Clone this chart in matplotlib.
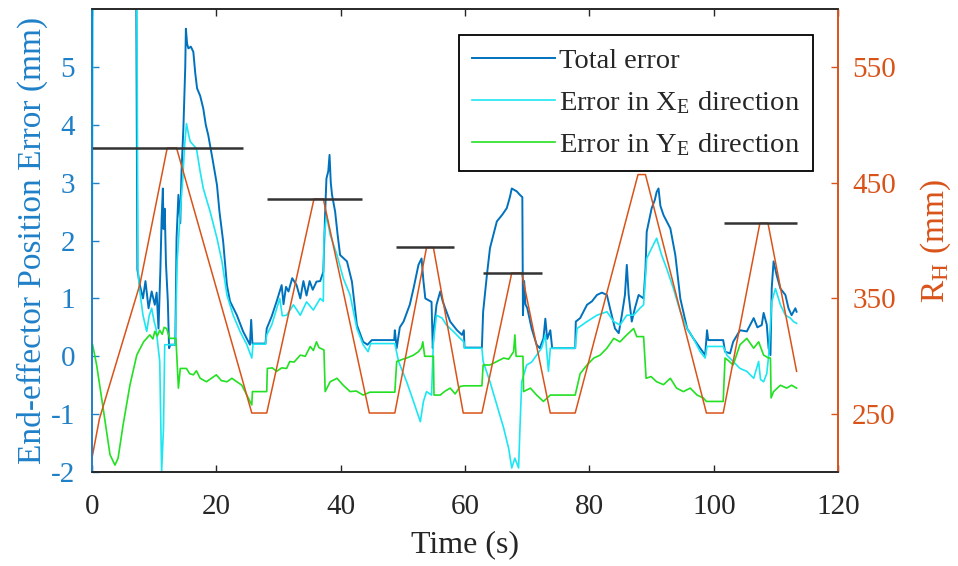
import matplotlib
matplotlib.use("Agg")
import matplotlib.pyplot as plt

plt.rcParams["font.family"] = ["Liberation Serif", "DejaVu Serif"]
plt.rcParams["mathtext.fontset"] = "stix"
plt.rcParams["axes.unicode_minus"] = False

# total end-effector error (mm), large values at the start run off the top
total_t = [0, 6.9, 7.3, 7.7, 8.2, 8.6, 9.1, 9.6, 10.1, 10.4, 10.7, 11.0, 11.2, 11.4, 11.5, 11.7,
           11.9, 12.2, 12.4, 12.6, 13.4, 13.6, 13.9, 14.2, 14.4, 14.7, 15.0, 15.1, 15.3, 15.5,
           15.9, 16.3, 16.6, 16.9, 17.4, 17.9, 18.3, 18.7, 19.4, 20.1, 20.5, 21.1, 21.7, 22.2,
           23.3, 24.3, 25.4, 25.6, 25.8, 27.9, 28.1, 28.9, 29.7, 30.5, 30.8, 31.2, 31.6, 32.2,
           32.9, 33.5, 34.0, 34.5, 35.0, 35.5, 36.1, 36.7, 37.2, 37.5, 37.7, 38.0, 38.2, 38.4,
           38.6, 39.1, 39.5, 39.9, 41.0, 41.8, 42.6, 43.6, 44.3, 45.0, 48.6, 48.7, 49.0, 49.5,
           50.1, 51.1, 51.7, 52.5, 53.0, 53.3, 53.6, 54.6, 54.8, 55.0, 55.4, 56.0, 56.4, 56.8,
           57.6, 58.7, 59.5, 59.8, 59.9, 62.7, 62.9, 63.5, 64.0, 65.1, 66.0, 66.7, 67.2, 67.5,
           68.3, 68.8, 69.2, 69.3, 69.5, 69.7, 70.0, 70.7, 71.5, 72.0, 72.6, 72.9, 73.2, 73.7,
           74.0, 77.7, 77.8, 78.5, 79.6, 80.4, 81.2, 82.0, 82.8, 83.3, 84.1, 84.7, 85.2, 85.7,
           86.0, 86.3, 86.8, 87.3, 87.9, 88.7, 89.0, 89.2, 90.0, 90.5, 90.8, 91.1, 91.4, 91.9,
           93.0, 93.8, 94.6, 95.7, 96.7, 97.8, 98.6, 98.9, 99.1, 101.5, 101.8, 102.6, 103.1,
           104.2, 105.3, 106.4, 107.0, 107.7, 108.0, 108.5, 108.8, 109.1, 109.3, 109.6, 110.1,
           110.7, 111.5, 112.0, 112.5, 113.1, 113.3]
total_e = [12, 12, 1.5, 1.23, 1.0, 1.3, 0.83, 1.12, 0.89, 1.1, 0.48, 1.5, 2.38, 2.9, 2.2, 2.55,
           1.6, 0.95, 0.14, 0.2, 0.2, 2.04, 2.79, 2.3, 3.2, 3.94, 5.0, 5.66, 5.4, 5.32,
           5.35, 5.26, 4.9, 4.63, 4.5, 4.28, 4.0, 3.82, 3.4, 2.96, 2.5, 1.98, 1.23, 0.95,
           0.71, 0.43, 0.2, 0.63, 0.22, 0.22, 0.48, 0.69, 0.95, 1.23, 0.9, 1.2, 1.12, 1.35,
           1.23, 1.0, 1.3, 1.05, 1.3, 1.15, 1.29, 1.3, 1.46, 2.5, 3.07, 3.2, 3.48, 3.0,
           2.79, 2.5, 2.1, 1.75, 1.64, 1.29, 0.54, 0.25, 0.2, 0.28, 0.28, 0.45, 0.14, 0.5,
           0.6, 0.89, 1.17, 1.58, 1.69, 1.3, 1.0, 0.94, 0.14, 0.5, 0.89, 1.12, 0.95, 0.83,
           0.6, 0.45, 0.37, 0.45, 0.15, 0.15, 0.77, 1.4, 1.87, 2.33, 2.45, 2.56, 2.75, 2.9,
           2.85, 2.79, 2.75, 0.71, 1.3, 0.9, 0.83, 0.48, 0.2, 0.14, 0.31, 0.65, 0.3, 0.45,
           0.14, 0.14, 0.6, 0.66, 0.89, 0.95, 1.06, 1.1, 1.06, 0.83, 0.48, 0.4, 0.71, 1.06,
           1.58, 1.06, 0.6, 0.83, 1.06, 1.0, 1.5, 2.15, 2.56, 2.7, 2.84, 2.9, 2.6, 2.44,
           2.21, 1.75, 1.0, 0.48, 0.31, 0.14, 0.02, 0.45, 0.28, 0.28, 0.08, 0.05, 0.25,
           0.45, 0.43, 0.66, 0.5, 0.54, 0.75, 0.55, 0.14, 0.02, 1.17, 1.64, 1.4,
           1.17, 1.06, 0.83, 0.71, 0.83, 0.77]

# error along X_E (mm)
xerr_t = [0, 0.3, 7.0, 7.4, 7.6, 8.2, 8.8, 9.2, 9.6, 10.0, 10.3, 10.9, 11.2, 11.5, 11.7, 13.4,
          13.7, 14.2, 14.6, 14.9, 15.2, 15.5, 15.8, 16.8, 17.4, 17.9, 19.0, 20.1, 20.9, 21.7,
          22.7, 23.8, 24.9, 25.7, 25.9, 27.9, 28.1, 28.9, 30.2, 30.6, 31.3, 32.4, 33.5, 34.5,
          35.6, 36.7, 37.2, 37.3, 37.7, 38.3, 39.4, 40.4, 41.5, 42.6, 43.6, 44.4, 44.8, 48.7,
          49.3, 50.6, 51.7, 52.8, 53.3, 53.8, 54.6, 54.9, 55.4, 56.3, 57.0, 58.1, 59.2, 59.8,
          59.9, 62.7, 62.9, 64.0, 65.1, 66.2, 67.0, 67.5, 68.0, 68.6, 68.8, 69.1, 69.9, 70.7,
          71.5, 72.3, 72.9, 73.4, 73.7, 77.7, 78.0, 79.6, 81.2, 82.8, 83.9, 84.9, 86.0, 87.1,
          88.1, 88.7, 89.2, 90.0, 90.8, 91.6, 92.4, 93.5, 94.6, 95.7, 96.7, 97.8, 98.6, 98.9,
          101.5, 102.1, 103.1, 104.2, 105.3, 106.4, 107.2, 107.5, 108.0, 108.5, 108.8, 109.3,
          109.9, 110.7, 111.5, 112.3, 112.8, 113.3]
xerr_e = [0.3, 12, 12, 1.5, 1.2, 0.71, 0.43, 0.7, 0.83, 0.6, 0.48, -0.09, -1.99, -1.24, 0.2, 0.2,
          1.64, 2.5, 3.07, 3.65, 4.02, 3.85, 3.71, 3.59, 3.19, 2.9, 2.5, 2.04, 1.64, 1.06,
          0.71, 0.43, 0.2, -0.03, 0.21, 0.21, 0.37, 0.54, 1.0, 0.7, 0.71, 0.89, 0.71, 0.94,
          0.8, 1.0, 0.95, 2.04, 2.44, 2.1, 1.75, 1.35, 1.06, 0.48, 0.2, 0.08, 0.22, 0.22,
          -0.09, -0.44, -0.78, -1.13, -0.78, -0.61, -0.67, 0.25, 0.71, 0.66, 0.54, 0.43, 0.31, 0.25,
          0.14, 0.14, -0.09, -0.44, -0.84, -1.24, -1.59, -1.93, -1.76, -1.93, -1.3, -0.44, -0.15, -0.1,
          0.02, 0.14, 0.37, -0.26, 0.14, 0.14, 0.48, 0.6, 0.71, 0.77, 0.6, 0.54, 0.71, 0.71,
          0.83, 0.89, 1.69, 1.87, 2.04, 1.75, 1.52, 1.17, 0.77, 0.48, 0.31, 0.08, -0.03, 0.17,
          0.17, 0.02, -0.09, -0.21, -0.26, -0.38, -0.09, -0.4, -0.44, -0.3, 0.0, 0.94,
          1.17, 0.89, 0.71, 0.66, 0.6, 0.57]

# error along Y_E (mm)
yerr_t = [0.1, 0.75, 1.8, 2.9, 3.7, 4.2, 5.0, 6.1, 7.2, 8.3, 9.3, 9.8, 10.1, 10.5, 10.9, 11.3,
          11.6, 12.0, 12.3, 12.5, 13.5, 13.9, 14.2, 15.2, 15.7, 16.3, 16.8, 17.4, 18.4, 19.2,
          20.0, 20.8, 21.7, 22.5, 23.3, 24.1, 24.9, 25.7, 25.8, 28.1, 28.2, 29.0, 29.7, 30.5,
          31.3, 31.8, 32.5, 33.5, 34.3, 35.1, 35.6, 36.1, 36.5, 37.3, 37.5, 38.3, 39.4, 40.4,
          41.5, 42.5, 43.6, 44.7, 48.7, 49.0, 50.0, 50.6, 51.7, 52.5, 53.0, 53.2, 53.5, 54.9,
          55.0, 56.0, 56.8, 57.6, 58.4, 59.2, 59.8, 62.7, 62.9, 64.0, 65.1, 66.2, 67.0, 67.8,
          68.0, 68.2, 69.3, 69.4, 70.5, 71.5, 72.6, 73.2, 73.7, 77.7, 78.5, 79.6, 80.7, 81.7,
          82.8, 83.9, 84.9, 86.0, 87.1, 87.6, 88.7, 89.1, 89.9, 90.8, 91.9, 93.0, 94.0, 95.1,
          96.2, 97.3, 98.3, 98.8, 101.5, 101.8, 102.4, 103.1, 104.2, 105.3, 106.4, 107.2, 108.0,
          108.8, 109.1, 109.2, 109.6, 110.7, 111.7, 112.5, 113.3]
yerr_e = [0.2, -0.15, -0.9, -1.7, -1.88, -1.76, -1.19, -0.5, 0.02, 0.25, 0.37, 0.3, 0.43, 0.35, 0.45, 0.38,
          0.5, 0.48, 0.38, 0.31, 0.31, -0.55, -0.21, -0.21, -0.3, -0.32, -0.25, -0.38, -0.44, -0.38,
          -0.32, -0.42, -0.44, -0.38, -0.44, -0.5, -0.67, -0.84, -0.61, -0.61, -0.21, -0.2, -0.26, -0.2,
          -0.21, -0.09, -0.1, 0.02, 0.0, 0.17, 0.1, 0.25, 0.15, 0.11, -0.61, -0.44, -0.38, -0.5,
          -0.61, -0.6, -0.67, -0.62, -0.62, -0.09, -0.05, -0.03, 0.02, 0.08, 0.15, 0.25, 0.0, 0.0,
          -0.67, -0.67, -0.6, -0.55, -0.65, -0.52, -0.51, -0.51, -0.15, -0.15, -0.09, -0.03, -0.05, 0.08,
          0.37, 0.0, 0.0, -0.61, -0.55, -0.67, -0.78, -0.72, -0.67, -0.67, -0.3, -0.15, -0.03, 0.02,
          0.14, 0.31, 0.25, 0.37, 0.48, 0.34, 0.34, -0.38, -0.35, -0.44, -0.49, -0.38, -0.55, -0.61,
          -0.55, -0.67, -0.72, -0.78, -0.78, -0.03, -0.08, -0.15, 0.2, 0.31, 0.14, 0.25, 0.02,
          -0.03, -0.03, -0.72, -0.61, -0.5, -0.55, -0.5, -0.55]

# commanded radius R_H (mm)
rh_t = [0, 1.2, 7.7, 12.1, 13.6, 25.7, 28.1, 35.7, 37.2, 44.6, 48.7, 53.8, 54.9, 59.7, 62.7,
        67.5, 69.1, 73.7, 77.7, 87.8, 89.0, 98.8, 101.5, 107.4, 108.7, 113.3]
rh_mm = [212, 246, 362, 480, 480, 251, 251, 436, 436, 251, 251, 394, 394, 251, 251,
         372, 372, 251, 251, 457, 457, 251, 251, 415, 415, 287]

# peak radius markers: level, start, end
peak_level = [480, 436, 394, 372, 415]
peak_start = [0, 28.1, 48.9, 62.9, 101.7]
peak_end = [24.3, 43.5, 58.2, 72.3, 113.4]

c_left = "#1f80c8"
c_right = "#D95319"
c_dark = "#262626"

fig = plt.figure(figsize=(9.58, 5.66), dpi=100)
ax1 = fig.add_axes([0.096, 0.166, 0.779, 0.818])
ax2 = ax1.twinx()

h1, = ax1.plot(total_t, total_e, color="#0072BD", lw=1.4, label="Total error")
h2, = ax1.plot(xerr_t, xerr_e, color="#1CE6F2", lw=1.2,
               label=r"Error in X$_\mathregular{E}$ direction")
h3, = ax1.plot(yerr_t, yerr_e, color="#22E022", lw=1.2,
               label=r"Error in Y$_\mathregular{E}$ direction")

ax2.plot(rh_t, rh_mm, color=c_right, lw=1.1)
ax2.hlines(peak_level, peak_start, peak_end, color="#333333", lw=1.8)

ax1.set_xlim(0, 120)
ax1.set_ylim(-2, 6)
ax2.set_ylim(200, 600)
ax1.set_xticks([0, 20, 40, 60, 80, 100, 120])
ax1.set_yticks([-2, -1, 0, 1, 2, 3, 4, 5])
ax2.set_yticks([250, 350, 450, 550])

ax1.set_xlabel("Time (s)", fontsize=23, color=c_dark, labelpad=7)
ax1.set_ylabel("End-effector Position Error (mm)", fontsize=24, color=c_left, labelpad=2)
ax2.set_ylabel(r"R$_\mathregular{H}$ (mm)", fontsize=24, color=c_right, labelpad=16)

ax1.tick_params(axis="x", direction="in", top=True, length=5, width=1,
                labelsize=21, colors=c_dark, pad=16)
ax1.tick_params(axis="y", direction="in", length=5, width=1,
                labelsize=21, colors=c_left, pad=12)
ax2.tick_params(axis="y", direction="in", length=5, width=1,
                labelsize=21, colors=c_right, pad=10)

for ax in (ax1, ax2):
    ax.spines["top"].set_color(c_dark)
    ax.spines["bottom"].set_color(c_dark)
    ax.spines["left"].set_color(c_left)
    ax.spines["right"].set_color(c_right)
    for s in ax.spines.values():
        s.set_linewidth(1.2)

leg = ax2.legend(handles=[h1, h2, h3], loc="upper right", bbox_to_anchor=(0.966, 0.944),
                 fontsize=20.5, frameon=True, fancybox=False, framealpha=1,
                 edgecolor="black", handlelength=2.9, handletextpad=0.15,
                 labelspacing=0.55, borderpad=0.45, borderaxespad=0)
leg.get_frame().set_linewidth(1.3)
for t in leg.get_texts():
    t.set_color(c_dark)

fig.savefig("out.png", dpi=100)
